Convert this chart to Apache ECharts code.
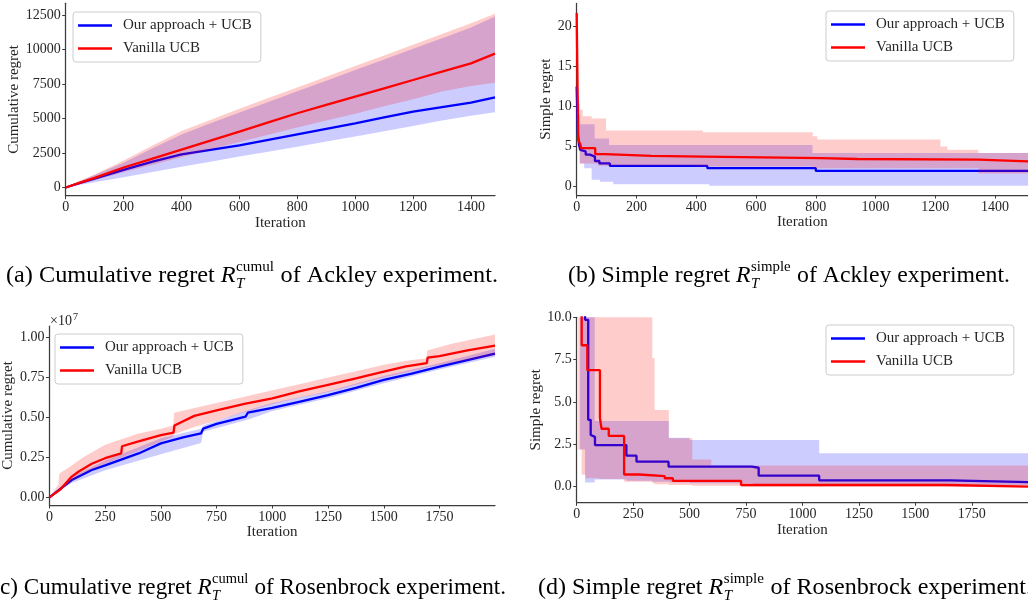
<!DOCTYPE html>
<html><head><meta charset="utf-8">
<script src="https://cdn.jsdelivr.net/npm/echarts@6/dist/echarts.min.js"></script>
<style>html,body{margin:0;padding:0;background:#fff}#c{width:1028px;height:605px}</style>
</head><body><div id="c"></div><script>
// ---------------- DATA ----------------
const seriesNames = ['Our approach + UCB', 'Vanilla UCB'];

// (a) Ackley cumulative regret
const ackCumIter   = [0, 50, 100, 200, 300, 400, 500, 600, 700, 800, 900, 1000, 1100, 1200, 1300, 1400, 1483];
const ackCumOurs   = [0, 330, 650, 1280, 1880, 2400, 2720, 3050, 3450, 3850, 4250, 4650, 5080, 5500, 5830, 6150, 6540];
const ackCumOursLo = [0, 200, 380, 750, 1120, 1500, 1870, 2250, 2600, 2950, 3330, 3700, 4070, 4450, 4850, 5200, 5450];
const ackCumOursHi = [0, 450, 900, 1800, 2850, 3850, 4650, 5430, 6200, 6970, 7740, 8510, 9280, 10050, 10820, 11600, 12400];
const ackCumVan    = [0, 350, 700, 1450, 2100, 2750, 3400, 4050, 4720, 5380, 5990, 6590, 7190, 7790, 8400, 9000, 9700];
const ackCumVanLo  = [0, 250, 550, 1100, 1650, 2200, 2750, 3300, 3830, 4350, 4850, 5350, 5880, 6400, 6950, 7350, 7600];
const ackCumVanHi  = [0, 500, 950, 1950, 3050, 4100, 4900, 5700, 6480, 7250, 8020, 8800, 9570, 10350, 11120, 11900, 12600];

// (b) Ackley simple regret (step data: value holds from iteration onwards)
const ackSimOursIter = [0, 4, 8, 12, 17, 30, 44, 61, 76, 111, 437, 800, 1510];
const ackSimOurs     = [12.5, 6.5, 5.2, 4.6, 4.4, 4.0, 3.75, 3.2, 2.9, 2.58, 2.3, 1.96, 1.96];
const ackSimOursBandIter = [0, 4, 10, 25, 50, 60, 78, 108, 122, 444, 789, 1510];
const ackSimOursLo   = [12.5, 5.0, 2.9, 2.3, 0.85, 0.85, 0.62, 0.62, 0.3, 0.1, 0.1, 0.1];
const ackSimOursHi   = [12.5, 9.0, 7.8, 7.8, 7.8, 6.0, 6.0, 5.2, 5.2, 5.2, 4.2, 4.2];
const ackSimVanIter  = [0, 3, 5, 8, 12, 15, 62, 95, 250, 422, 817, 939, 1344, 1510];
const ackSimVan      = [21.7, 12, 6.0, 5.6, 5.3, 4.8, 4.05, 3.85, 3.75, 3.55, 3.45, 3.38, 3.15, 3.15];
const ackSimVanBandIter = [0, 3, 5, 10, 20, 50, 70, 98, 400, 422, 790, 805, 1217, 1240, 1344, 1510];
const ackSimVanLo    = [21.7, 8.0, 4.5, 2.9, 2.9, 2.9, 2.6, 2.6, 2.5, 2.5, 2.3, 2.3, 2.3, 2.3, 1.65, 1.65];
const ackSimVanHi    = [21.7, 12, 10.4, 9.6, 8.8, 8.5, 8.5, 7.0, 7.0, 6.8, 6.3, 5.9, 5.0, 4.6, 4.2, 4.2];

// (c) Rosenbrock cumulative regret
const rosCumOursIter = [0, 100, 190, 250, 400, 500, 600, 680, 690, 750, 880, 890, 1000, 1125, 1250, 1375, 1500, 1625, 1750, 1875, 1999];
const rosCumOurs     = [0, 1.08e6, 1.71e6, 2.0e6, 2.75e6, 3.38e6, 3.75e6, 4.0e6, 4.3e6, 4.6e6, 5.05e6, 5.3e6, 5.6e6, 6.0e6, 6.4e6, 6.85e6, 7.35e6, 7.75e6, 8.18e6, 8.6e6, 9.0e6];
const rosCumOursBandIter = [0, 100, 250, 500, 680, 690, 900, 1000, 1250, 1500, 1750, 1999];
const rosCumOursLo   = [0, 0.9e6, 1.7e6, 2.7e6, 3.4e6, 4.1e6, 4.9e6, 5.4e6, 6.2e6, 7.15e6, 8.0e6, 8.8e6];
const rosCumOursHi   = [0, 1.3e6, 2.3e6, 3.7e6, 4.3e6, 4.5e6, 5.5e6, 5.9e6, 6.65e6, 7.6e6, 8.4e6, 9.3e6];
const rosCumVanIter  = [0, 50, 100, 130, 190, 250, 322, 326, 400, 500, 557, 561, 650, 750, 875, 1000, 1125, 1250, 1375, 1500, 1600, 1693, 1697, 1750, 1875, 1999];
const rosCumVan      = [0, 0.5e6, 1.3e6, 1.6e6, 2.1e6, 2.45e6, 2.75e6, 3.2e6, 3.5e6, 3.9e6, 4.05e6, 4.5e6, 5.1e6, 5.45e6, 5.85e6, 6.2e6, 6.65e6, 7.05e6, 7.45e6, 7.87e6, 8.2e6, 8.4e6, 8.75e6, 8.85e6, 9.2e6, 9.5e6];
const rosCumVanBandIter = [0, 40, 45, 100, 150, 250, 400, 500, 555, 560, 650, 750, 875, 1000, 1125, 1250, 1375, 1500, 1625, 1690, 1695, 1800, 1999];
const rosCumVanLo    = [0, 0.3e6, 0.4e6, 1.0e6, 1.5e6, 2.1e6, 2.9e6, 3.5e6, 3.8e6, 3.95e6, 4.4e6, 4.8e6, 5.35e6, 5.85e6, 6.25e6, 6.6e6, 7.05e6, 7.5e6, 7.9e6, 8.1e6, 8.15e6, 8.4e6, 8.9e6];
const rosCumVanHi    = [0, 0.8e6, 1.5e6, 2.0e6, 2.5e6, 3.3e6, 4.0e6, 4.3e6, 4.5e6, 5.3e6, 5.6e6, 5.9e6, 6.3e6, 6.7e6, 7.1e6, 7.5e6, 7.9e6, 8.3e6, 8.6e6, 8.7e6, 9.2e6, 9.6e6, 10.2e6];

// (d) Rosenbrock simple regret (step data)
const rosSimOursIter = [0, 37, 51, 62, 68, 81, 220, 265, 407, 776, 806, 1074, 1654, 1999];
const rosSimOurs     = [11, 9.85, 3.95, 3.05, 2.94, 2.46, 1.83, 1.48, 1.18, 1.12, 0.65, 0.38, 0.27, 0.27];
const rosSimOursBandIter = [0, 15, 37, 80, 220, 335, 408, 500, 780, 1074, 1999];
const rosSimOursLo   = [11, 2.2, 0.25, 0.42, 0.35, 0.3, 0.25, 0.2, 0.1, 0.1, 0.1];
const rosSimOursHi   = [11, 11, 11, 3.88, 3.88, 3.88, 2.89, 2.76, 2.76, 1.97, 1.97];
const rosSimVanIter  = [0, 22, 47, 103, 110, 142, 210, 279, 390, 426, 728, 1640, 1999];
const rosSimVan      = [12, 8.35, 6.88, 4.05, 3.42, 3.0, 0.72, 0.62, 0.5, 0.35, 0.1, 0.0, 0.0];
const rosSimVanBandIter = [0, 7, 22, 40, 100, 210, 335, 345, 408, 512, 596, 730, 1999];
const rosSimVanLo    = [12, 2.2, 0.7, 0.5, 0.45, 0.3, 0.2, 0.15, 0.1, 0.05, 0.05, 0.0, 0.0];
const rosSimVanHi    = [12, 12, 12, 12, 12, 12, 7.6, 4.53, 2.86, 1.6, 1.25, 1.25, 1.25];

// tick labels
const ackIterTicks = [0, 200, 400, 600, 800, 1000, 1200, 1400];
const rosIterTicks = [0, 250, 500, 750, 1000, 1250, 1500, 1750];
const ackCumTicks = [0, 2500, 5000, 7500, 10000, 12500];
const ackSimTicks = [0, 5, 10, 15, 20];
const rosCumTicks = [0, 0.25e7, 0.5e7, 0.75e7, 1.0e7];
const rosSimTicks = [0, 2.5, 5, 7.5, 10];

// ---------------- STYLE / BUILD ----------------
const FONT = '"Liberation Serif", "Times New Roman", serif';
const TXT = '#262626', AX = '#3c3c3c';
const BLUE = '#0000ff', RED = '#ff0000';
const BLUE_F = 'rgba(0,0,255,0.2)', RED_F = 'rgba(255,0,0,0.2)';

const grids = [
  {left: 65.7, top: 3.3, width: 429.3, height: 192.4},
  {left: 576.7, top: 3.4, width: 453, height: 191.6},
  {left: 47.7, top: 326, width: 447.3, height: 179},
  {left: 576.7, top: 317.3, width: 453.1, height: 185}
];

function xAxis(gi, max, ticks, gap) {
  return {type: 'value', gridIndex: gi, min: 0, max: max,
    name: 'Iteration', nameLocation: 'middle', nameGap: gap,
    nameTextStyle: {fontFamily: FONT, fontSize: 15, color: TXT},
    axisLine: {onZero: false, lineStyle: {color: AX, width: 1.25}},
    axisTick: {customValues: ticks, length: 3.5, lineStyle: {color: AX, width: 1}},
    axisLabel: {customValues: ticks, margin: 5, fontFamily: FONT, fontSize: 14, color: TXT, formatter: v => String(v)},
    splitLine: {show: false}};
}
function yAxis(gi, min, max, ticks, name, gap, fmt) {
  return {type: 'value', gridIndex: gi, min: min, max: max,
    name: name, nameLocation: 'middle', nameGap: gap, nameRotate: 90,
    nameTextStyle: {fontFamily: FONT, fontSize: 15, color: TXT},
    axisLine: {show: true, onZero: false, lineStyle: {color: AX, width: 1.25}},
    axisTick: {show: true, customValues: ticks, length: 3.5, lineStyle: {color: AX, width: 1}},
    axisLabel: {customValues: ticks, margin: 5, fontFamily: FONT, fontSize: 14, color: TXT, formatter: fmt},
    splitLine: {show: false}};
}

function lineSeries(name, gi, xs, ys, color, step, z) {
  return {type: 'line', name: name, xAxisIndex: gi, yAxisIndex: gi,
    data: xs.map((x, i) => [x, ys[i]]), showSymbol: false, symbol: 'none',
    step: step ? 'end' : false, color: color,
    lineStyle: {width: 2.3, color: color}, itemStyle: {color: color},
    z: z, silent: true, animation: false};
}
function bandSeries(id, gi, xs, lo, hi, fill, step, z) {
  return {type: 'custom', name: id, xAxisIndex: gi, yAxisIndex: gi,
    data: xs.map((x, i) => [x, lo[i], hi[i]]), encode: {x: 0, y: [1, 2]},
    z: z, silent: true, animation: false,
    renderItem: function (params, api) {
      if (params.dataIndex !== 0) return null;
      const n = params.dataInsideLength;
      const X = [], L = [], H = [];
      for (let j = 0; j < n; j++) { X.push(api.value(0, j)); L.push(api.value(1, j)); H.push(api.value(2, j)); }
      const pts = [];
      for (let i = 0; i < n; i++) {
        pts.push(api.coord([X[i], H[i]]));
        if (step && i < n - 1) pts.push(api.coord([X[i + 1], H[i]]));
      }
      for (let i = n - 1; i >= 0; i--) {
        if (step && i < n - 1) pts.push(api.coord([X[i + 1], L[i]]));
        pts.push(api.coord([X[i], L[i]]));
      }
      const cs = params.coordSys;
      return {type: 'polygon', shape: {points: pts}, style: {fill: fill},
        clipPath: {type: 'rect', shape: {x: cs.x, y: cs.y, width: cs.width, height: cs.height}}};
    }};
}

const series = [
  bandSeries('b0o', 0, ackCumIter, ackCumOursLo, ackCumOursHi, BLUE_F, false, 1),
  lineSeries(seriesNames[0], 0, ackCumIter, ackCumOurs, BLUE, false, 2),
  bandSeries('b0v', 0, ackCumIter, ackCumVanLo, ackCumVanHi, RED_F, false, 3),
  lineSeries(seriesNames[1], 0, ackCumIter, ackCumVan, RED, false, 4),

  bandSeries('b1o', 1, ackSimOursBandIter, ackSimOursLo, ackSimOursHi, BLUE_F, true, 1),
  lineSeries(seriesNames[0], 1, ackSimOursIter, ackSimOurs, BLUE, true, 2),
  bandSeries('b1v', 1, ackSimVanBandIter, ackSimVanLo, ackSimVanHi, RED_F, true, 3),
  lineSeries(seriesNames[1], 1, ackSimVanIter, ackSimVan, RED, true, 4),

  bandSeries('b2o', 2, rosCumOursBandIter, rosCumOursLo, rosCumOursHi, BLUE_F, false, 1),
  lineSeries(seriesNames[0], 2, rosCumOursIter, rosCumOurs, BLUE, false, 2),
  bandSeries('b2v', 2, rosCumVanBandIter, rosCumVanLo, rosCumVanHi, RED_F, false, 3),
  lineSeries(seriesNames[1], 2, rosCumVanIter, rosCumVan, RED, false, 4),

  bandSeries('b3o', 3, rosSimOursBandIter, rosSimOursLo, rosSimOursHi, BLUE_F, true, 1),
  lineSeries(seriesNames[0], 3, rosSimOursIter, rosSimOurs, BLUE, true, 2),
  bandSeries('b3v', 3, rosSimVanBandIter, rosSimVanLo, rosSimVanHi, RED_F, true, 3),
  lineSeries(seriesNames[1], 3, rosSimVanIter, rosSimVan, RED, true, 4)
];

const legendPos = [[73, 12], [826, 11], [55, 334], [826, 325]];
const legends = legendPos.map(p => ({
  data: seriesNames, orient: 'vertical', left: p[0], top: p[1],
  icon: 'rect', itemWidth: 34, itemHeight: 2.5, itemGap: 8,
  padding: [6, 9, 6, 5], backgroundColor: 'rgba(255,255,255,0.8)',
  borderColor: '#cccccc', borderWidth: 1, borderRadius: 3, selectedMode: false,
  textStyle: {fontFamily: FONT, fontSize: 15, color: TXT, lineHeight: 15, padding: [0, 0, 0, 6]}
}));

// captions (measured to fit their spans)
const mctx = document.createElement('canvas').getContext('2d');
function tw(t, f) { mctx.font = f; return mctx.measureText(t).width; }
function caption(pre, sup, post, xStart, xEnd, midY, lead, trail) {
  const S = 24, s = 15;
  const fM = S + 'px ' + FONT, fI = 'italic ' + S + 'px ' + FONT;
  const fS = s + 'px ' + FONT, fSI = 'italic ' + s + 'px ' + FONT;
  const w1 = tw(pre, fM), wR = tw('R', fI), wSup = tw(sup, fS), wT = tw('T', fSI), w3 = tw(post, fM);
  const xs = w1 + wR + 0.5, x3 = xs + Math.max(wSup, wT) + 0.5;
  const total = x3 + w3;
  const wl = lead ? tw(lead, fM) : 0, wt = trail ? tw(trail, fM) : 0;
  const sc = (xEnd - xStart) / (total - wl - wt);
  const base = {fill: '#000', verticalAlign: 'middle', align: 'left'};
  return {type: 'group', x: xStart - wl * sc, y: midY, scaleX: sc, silent: true, children: [
    {type: 'text', x: 0, y: 0, style: Object.assign({text: pre, font: fM}, base)},
    {type: 'text', x: w1, y: 0, style: Object.assign({text: 'R', font: fI}, base)},
    {type: 'text', x: xs, y: -9, style: Object.assign({text: sup, font: fS}, base)},
    {type: 'text', x: xs, y: 8, style: Object.assign({text: 'T', font: fSI}, base)},
    {type: 'text', x: x3, y: 0, style: Object.assign({text: post, font: fM}, base)}
  ]};
}

const graphics = [
  caption('(a) Cumulative regret ', 'cumul', ' of Ackley experiment.', 6, 498, 276),
  caption('(b) Simple regret ', 'simple', ' of Ackley experiment.', 568, 1010, 276),
  caption('(c) Cumulative regret ', 'cumul', ' of Rosenbrock experiment.', 0, 506, 588, '('),
  caption('(d) Simple regret ', 'simple', ' of Rosenbrock experiment.', 538, 1026, 588, null, '.'),
  {type: 'text', left: 50, top: 314, silent: true, style: {text: '\u00d710', font: '14px ' + FONT, fill: TXT}},
  {type: 'text', left: 73, top: 312, silent: true, style: {text: '7', font: '10px ' + FONT, fill: TXT}}
];

const chart = echarts.init(document.getElementById('c'), null, {renderer: 'canvas'});
chart.setOption({
  animation: false,
  backgroundColor: '#ffffff',
  grid: grids,
  xAxis: [
    xAxis(0, 1483, ackIterTicks, 20),
    xAxis(1, 1510, ackIterTicks, 19),
    xAxis(2, 1999, rosIterTicks, 19),
    xAxis(3, 1999, rosIterTicks, 20)
  ],
  yAxis: [
    yAxis(0, -594, 13350, ackCumTicks, 'Cumulative regret', 43, v => String(v)),
    yAxis(1, -1.05, 22.9, ackSimTicks, 'Simple regret', 22, v => String(v)),
    yAxis(2, -0.048e7, 1.073e7, rosCumTicks, 'Cumulative regret', 30, v => (v / 1e7).toFixed(2)),
    yAxis(3, -0.92, 10, rosSimTicks, 'Simple regret', 33, v => v.toFixed(1))
  ],
  legend: legends,
  series: series,
  graphic: graphics
});
</script></body></html>
